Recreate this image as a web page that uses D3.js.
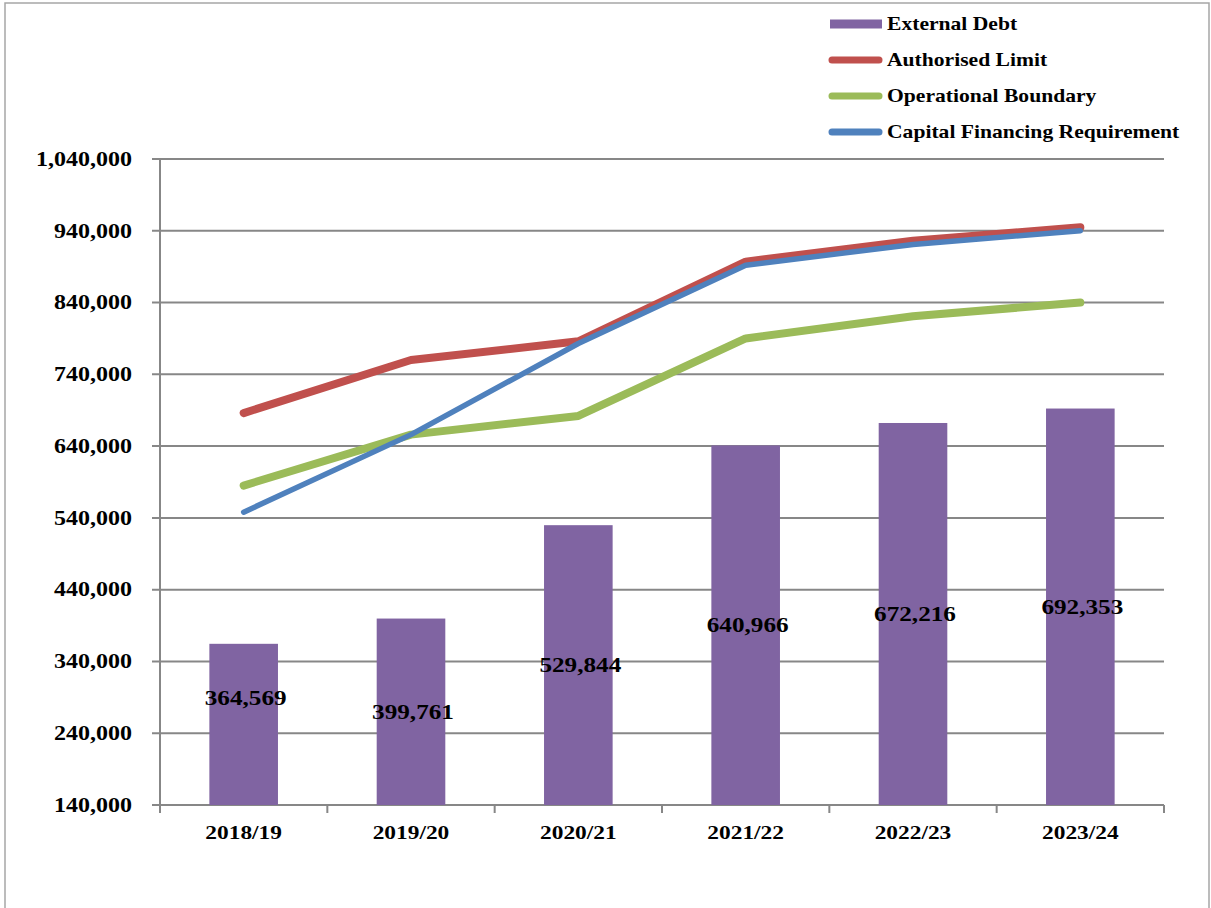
<!DOCTYPE html>
<html>
<head>
<meta charset="utf-8">
<script src="https://cdn.jsdelivr.net/npm/d3@7"></script>
<style>
  html, body { margin: 0; padding: 0; background: #fff; }
  svg { display: block; }
  text { font-family: "Liberation Serif", "Times New Roman", serif; font-weight: bold; fill: #000; }
</style>
</head>
<body>
<script>
// Financial years on the x axis
const years = ["2018/19", "2019/20", "2020/21", "2021/22", "2022/23", "2023/24"];

// External debt (bars, with value labels)
const externalDebt = [364569, 399761, 529844, 640966, 672216, 692353];

// Prudential indicators (lines)
const authorisedLimit = [686000, 760000, 786000, 897000, 926000, 945000];
const operationalBoundary = [585000, 656000, 682000, 790000, 821000, 840000];
const capitalFinancingRequirement = [548000, 656000, 783000, 892000, 921000, 940000];

// Value-axis ticks
const yTicks = [140000, 240000, 340000, 440000, 540000, 640000, 740000, 840000, 940000, 1040000];

const W = 1211, H = 908;
const plot = { left: 160, right: 1164, top: 159, bottom: 805 };
const sx = 1.2; // horizontal stretch applied to all text

const svg = d3.select("body").append("svg").attr("width", W).attr("height", H);

// outer frame
svg.append("rect")
  .attr("x", 5).attr("y", 3).attr("width", 1204).attr("height", H + 10)
  .attr("fill", "none").attr("stroke", "#a6a6a6").attr("stroke-width", 1.5);

const x = d3.scaleBand().domain(years).range([plot.left, plot.right])
  .paddingInner(0.59).paddingOuter(0.295);
const xs = d3.scalePoint().domain(years).range([plot.left, plot.right]).padding(0.5);
const y = d3.scaleLinear().domain([140000, 1040000]).range([plot.bottom, plot.top]);

const fmt = d3.format(",");

function stretchedText(g, tx, ty, str, size, anchor) {
  return g.append("g")
    .attr("transform", `translate(${tx},${ty}) scale(${sx},1)`)
    .append("text")
    .attr("font-size", size)
    .attr("text-anchor", anchor)
    .attr("dominant-baseline", "central")
    .text(str);
}

const gridColor = "#878787";

// horizontal gridlines with left tick stubs
const grid = svg.append("g");
grid.selectAll("line").data(yTicks).join("line")
  .attr("x1", plot.left - 8).attr("x2", plot.right)
  .attr("y1", d => y(d)).attr("y2", d => y(d))
  .attr("stroke", gridColor).attr("stroke-width", 2);

// y axis line
svg.append("line")
  .attr("x1", plot.left).attr("x2", plot.left)
  .attr("y1", plot.top).attr("y2", plot.bottom + 8)
  .attr("stroke", gridColor).attr("stroke-width", 2);

// category boundary ticks on the x axis
const bounds = d3.range(years.length + 1).map(i => plot.left + i * x.step());
svg.append("g").selectAll("line").data(bounds).join("line")
  .attr("x1", d => d).attr("x2", d => d)
  .attr("y1", plot.bottom).attr("y2", plot.bottom + 8)
  .attr("stroke", gridColor).attr("stroke-width", 2);

// y tick labels
const yl = svg.append("g");
yTicks.forEach(t => stretchedText(yl, 132, y(t), fmt(t), 20, "end"));

// x tick labels
const xl = svg.append("g");
years.forEach(c => stretchedText(xl, xs(c), 833, c, 19.5, "middle"));

// bars
svg.append("g").selectAll("rect").data(externalDebt).join("rect")
  .attr("x", (d, i) => x(years[i]))
  .attr("width", x.bandwidth())
  .attr("y", d => y(d))
  .attr("height", d => y(140000) - y(d))
  .attr("fill", "#8064A2");

// lines
const lineGen = d3.line().x((d, i) => xs(years[i])).y(d => y(d));
const series = [
  { values: authorisedLimit, color: "#C0504D", width: 8 },
  { values: operationalBoundary, color: "#9BBB59", width: 8 },
  { values: capitalFinancingRequirement, color: "#4F81BD", width: 5.5 }
];
svg.append("g").selectAll("path").data(series).join("path")
  .attr("d", d => lineGen(d.values))
  .attr("fill", "none")
  .attr("stroke", d => d.color)
  .attr("stroke-width", d => d.width)
  .attr("stroke-linecap", "round")
  .attr("stroke-linejoin", "round");

// bar value labels, centred in each bar (first one lifted clear of the axis labels)
const labelLift = [27, 0, 0, 0, 0, 0];
const vl = svg.append("g");
externalDebt.forEach((v, i) => {
  const cy = (y(v) + y(140000)) / 2 - labelLift[i];
  stretchedText(vl, xs(years[i]) + 2, cy, fmt(v), 21, "middle");
});

// legend
const legend = svg.append("g");
const legendItems = [
  { name: "External Debt", color: "#8064A2", type: "bar" },
  { name: "Authorised Limit", color: "#C0504D", type: "line" },
  { name: "Operational Boundary", color: "#9BBB59", type: "line" },
  { name: "Capital Financing Requirement", color: "#4F81BD", type: "line" }
];
legendItems.forEach((it, i) => {
  const ly = 24 + i * 36;
  if (it.type === "bar") {
    legend.append("rect").attr("x", 830).attr("y", ly - 4.5)
      .attr("width", 52).attr("height", 9).attr("fill", it.color);
  } else {
    legend.append("line").attr("x1", 832).attr("x2", 879)
      .attr("y1", ly).attr("y2", ly)
      .attr("stroke", it.color).attr("stroke-width", 7)
      .attr("stroke-linecap", "round");
  }
  stretchedText(legend, 887, ly, it.name, 18, "start");
});
</script>
</body>
</html>
